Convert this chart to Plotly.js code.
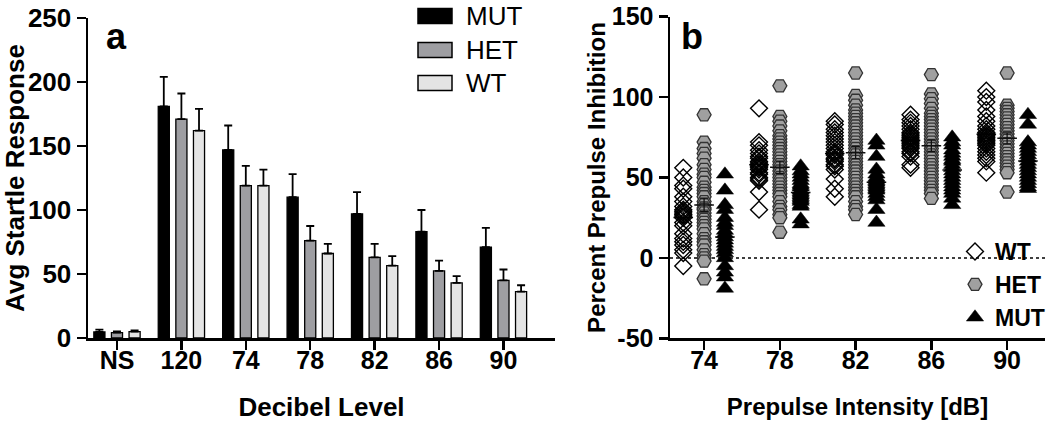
<!DOCTYPE html>
<html>
<head>
<meta charset="utf-8">
<script src="https://cdn.plot.ly/plotly-3.0.1.min.js"></script>
<style>html,body{margin:0;padding:0;background:#fff;}#chart{width:1050px;height:425px;}</style>
</head>
<body>
<div id="chart"></div>
<script>
// ---------- Panel a data ----------
const decibelCats = ['NS', '120', '74', '78', '82', '86', '90'];
const startleMUT = [4.7, 181, 147, 110, 97, 83, 71];
const startleHET = [4.2, 171, 119, 76, 63, 52.5, 45];
const startleWT  = [5.0, 162, 119, 66, 56.6, 43, 36.3];
const startleMUTtop = [6.5, 204, 166, 128, 114, 100, 86];
const startleHETtop = [5.2, 191, 134.5, 87.5, 73.5, 60.5, 53.5];
const startleWTtop  = [6.0, 179, 131.5, 73.5, 64, 48.3, 41.2];
const groupNames = ['MUT', 'HET', 'WT'];
const startleTicks = [0, 50, 100, 150, 200, 250];

// ---------- Panel b data ----------
const prepulseLevels = [74, 78, 82, 86, 90];
const ppiTicks = [-50, 0, 50, 100, 150];
const ppiTickText = ['-50', '0', '50', '100', '150'];
const ppiWT = [
  [56, 50, 45, 43, 38, 35, 32, 30, 29, 28, 27, 26, 25, 22, 20, 15, 12, 10, 8, 5, 3, -5],
  [93, 72, 70, 67, 65, 63, 62, 60, 59, 58, 57, 56, 55, 53, 52, 50, 49, 48, 41, 30],
  [85, 83, 80, 78, 76, 74, 72, 70, 68, 66, 65, 64, 62, 61, 60, 58, 57, 55, 49, 43, 38],
  [89, 86, 84, 82, 80, 78, 77, 76, 75, 74, 73, 72, 71, 70, 69, 68, 66, 65, 63, 58, 56],
  [104, 100, 97, 92, 88, 85, 82, 80, 78, 77, 76, 75, 74, 73, 72, 71, 70, 68, 66, 64, 62, 60, 53]
];
const ppiHET = [
  [89, 72, 68, 65, 62, 58, 55, 52, 50, 47, 44, 42, 40, 38, 35, 33, 31, 30, 28, 26, 24, 22, 20, 18, 15, 12, 10, 8, 5, 2, 0, -2, -13],
  [107, 88, 85, 82, 79, 76, 74, 72, 70, 68, 66, 64, 62, 60, 58, 56, 54, 52, 50, 48, 46, 44, 42, 40, 38, 35, 32, 30, 27, 25, 16],
  [115, 101, 98, 95, 92, 90, 88, 86, 84, 82, 80, 78, 76, 74, 72, 70, 68, 66, 64, 62, 60, 58, 56, 54, 52, 50, 48, 46, 44, 42, 40, 38, 35, 32, 30, 27],
  [114, 102, 99, 96, 93, 90, 88, 86, 84, 82, 80, 78, 76, 74, 72, 70, 68, 66, 64, 62, 60, 58, 56, 54, 52, 50, 48, 46, 44, 42, 40, 37],
  [115, 95, 93, 91, 89, 87, 85, 83, 81, 79, 77, 75, 73, 71, 69, 67, 65, 63, 61, 59, 57, 55, 53, 41]
];
const ppiMUT = [
  [52, 42, 33, 30, 25, 22, 20, 17, 15, 13, 11, 9, 7, 5, 3, 0, -5, -9, -12, -19],
  [57, 54, 52, 50, 48, 46, 45, 44, 42, 41, 40, 39, 38, 37, 36, 35, 33, 32, 24, 21],
  [73, 70, 63, 55, 52, 50, 49, 48, 47, 46, 45, 44, 43, 42, 40, 38, 36, 30, 22],
  [75, 72, 70, 67, 65, 63, 61, 60, 58, 56, 54, 52, 50, 48, 46, 44, 42, 40, 37, 33],
  [89, 83, 72, 70, 68, 66, 64, 62, 60, 58, 56, 54, 52, 50, 48, 46, 44, 43]
];

// ---------- styles ----------
const FONT = 'Liberation Sans, Arial, Helvetica, sans-serif';
const barColors = {MUT: '#000000', HET: '#9e9ea2', WT: '#e4e4e4'};
const startleVals = {MUT: startleMUT, HET: startleHET, WT: startleWT};
const startleTops = {MUT: startleMUTtop, HET: startleHETtop, WT: startleWTtop};

const traces = [];
groupNames.forEach(g => {
  const v = startleVals[g], t = startleTops[g];
  traces.push({
    type: 'bar', x: decibelCats, y: v, name: g, showlegend: false,
    xaxis: 'x', yaxis: 'y',
    marker: {color: barColors[g], line: {color: '#000', width: 1.3}},
    error_y: {type: 'data', symmetric: false,
      array: t.map((tv, i) => tv - v[i]), arrayminus: v.map(() => 0),
      color: '#000', thickness: 1.8, width: 4}
  });
});

// panel b
const offsets = {WT: -1.1, HET: 0, MUT: 1.1};
const ppi = {WT: ppiWT, HET: ppiHET, MUT: ppiMUT};
const markerStyles = {
  WT:  {symbol: 'diamond-open', size: 13, color: '#000', line: {color: '#000', width: 1.4}},
  HET: {symbol: 'hexagon2', size: 14, color: '#a0a0a0', line: {color: '#333', width: 1.3}},
  MUT: {symbol: 'triangle-up', size: 15, color: '#000', line: {color: '#000', width: 0.5}}
};
function meanTrace(g) {
  const xs = [], ms = [], se = [];
  prepulseLevels.forEach((lvl, i) => {
    const arr = ppi[g][i];
    const n = arr.length;
    const m = arr.reduce((a, b) => a + b, 0) / n;
    const sd = Math.sqrt(arr.reduce((a, b) => a + (b - m) * (b - m), 0) / (n - 1));
    xs.push(lvl + offsets[g]); ms.push(m); se.push(sd / Math.sqrt(n));
  });
  return {
    type: 'scatter', mode: 'markers', x: xs, y: ms, showlegend: false, hoverinfo: 'skip',
    xaxis: 'x2', yaxis: 'y2',
    marker: {symbol: 'line-ew', size: 14, line: {color: '#111', width: 1.5}},
    error_y: {type: 'data', array: se, color: '#111', thickness: 1.3, width: 4}
  };
}
traces.push(meanTrace('WT'));
traces.push(meanTrace('MUT'));
['WT', 'HET', 'MUT'].forEach(g => {
  const xs = [], ys = [];
  prepulseLevels.forEach((lvl, i) => {
    ppi[g][i].forEach(val => { xs.push(lvl + offsets[g]); ys.push(val); });
  });
  traces.push({
    type: 'scatter', mode: 'markers', x: xs, y: ys, name: g,
    xaxis: 'x2', yaxis: 'y2', showlegend: true,
    marker: markerStyles[g], cliponaxis: false
  });
});
traces.push(meanTrace('HET'));

const axisCommon = {
  showline: true, linecolor: '#000', linewidth: 2.5, mirror: false,
  ticks: 'outside', ticklen: 9, tickwidth: 2.5, tickcolor: '#000',
  showgrid: false, zeroline: false,
  tickfont: {family: FONT, size: 25, color: '#000', weight: 'bold'}
};
const titleFontA = {family: FONT, size: 26, color: '#000', weight: 'bold'};
const titleFontB = {family: FONT, size: 24, color: '#000', weight: 'bold'};

// legend for panel a (drawn as shapes + text)
const shapes = [];
const annotations = [];
const legRectX0 = 418, legRectX1 = 452, legTextX = 464;
const legRowY = [16, 50, 83];
groupNames.forEach((g, i) => {
  shapes.push({type: 'rect', xref: 'paper', yref: 'paper',
    x0: legRectX0 / 1050, x1: legRectX1 / 1050,
    y0: (425 - legRowY[i] - 7.5) / 425, y1: (425 - legRowY[i] + 7.5) / 425,
    fillcolor: barColors[g], line: {color: '#000', width: 1.5}});
  annotations.push({xref: 'paper', yref: 'paper', x: legTextX / 1050, y: (425 - legRowY[i]) / 425,
    xanchor: 'left', yanchor: 'middle', showarrow: false, text: g,
    font: {family: FONT, size: 26, color: '#000'}});
});
shapes.push({type: 'line', xref: 'x2 domain', yref: 'y2', x0: 0, x1: 1, y0: 0, y1: 0,
  line: {color: '#000', width: 1.5, dash: 'dot'}, layer: 'below'});
annotations.push({xref: 'paper', yref: 'paper', x: 104 / 1050, y: (425 - 36) / 425, xanchor: 'left', yanchor: 'middle',
  showarrow: false, text: 'a', font: {family: FONT, size: 36, color: '#000', weight: 'bold'}});
annotations.push({xref: 'paper', yref: 'paper', x: 679 / 1050, y: (425 - 36) / 425, xanchor: 'left', yanchor: 'middle',
  showarrow: false, text: 'b', font: {family: FONT, size: 36, color: '#000', weight: 'bold'}});

const layout = {
  width: 1050, height: 425,
  margin: {l: 0, r: 0, t: 0, b: 0},
  paper_bgcolor: '#fff', plot_bgcolor: 'rgba(0,0,0,0)',
  barmode: 'group', bargap: 0.18, bargroupgap: 0.37,
  font: {family: FONT, color: '#000'},
  xaxis: Object.assign({}, axisCommon, {
    type: 'category', domain: [88 / 1050, 555 / 1050], range: [-0.45, 6.8], anchor: 'y',
    ticklabelstandoff: -11,
    title: {text: 'Decibel Level', font: titleFontA, standoff: 26}
  }),
  yaxis: Object.assign({}, axisCommon, {
    domain: [(425 - 338) / 425, (425 - 18) / 425], range: [0, 250], anchor: 'x',
    tickvals: startleTicks, tickfont: {family: FONT, size: 26, color: '#000', weight: 'bold'},
    title: {text: 'Avg Startle Response', font: titleFontA, standoff: 2}
  }),
  xaxis2: Object.assign({}, axisCommon, {
    domain: [670 / 1050, 1045 / 1050], range: [72.2, 92], anchor: 'y2',
    tickvals: prepulseLevels, ticklabelstandoff: -11,
    title: {text: 'Prepulse Intensity [dB]', font: titleFontB, standoff: 26}
  }),
  yaxis2: Object.assign({}, axisCommon, {
    domain: [(425 - 338.3) / 425, (425 - 16.7) / 425], range: [-50, 150], anchor: 'x2',
    tickvals: ppiTicks, ticktext: ppiTickText,
    title: {text: 'Percent Prepulse Inhibition', font: titleFontB, standoff: 0}
  }),
  legend: {
    x: 1.0, xanchor: 'right', y: (425 - 339) / 425, yanchor: 'bottom',
    bgcolor: 'rgba(0,0,0,0)', borderwidth: 0, itemwidth: 30, tracegroupgap: 0,
    font: {family: FONT, size: 23, color: '#000', weight: 'bold'}
  },
  shapes: shapes,
  annotations: annotations
};

Plotly.newPlot('chart', traces, layout, {staticPlot: true, displayModeBar: false});
</script>
</body>
</html>
